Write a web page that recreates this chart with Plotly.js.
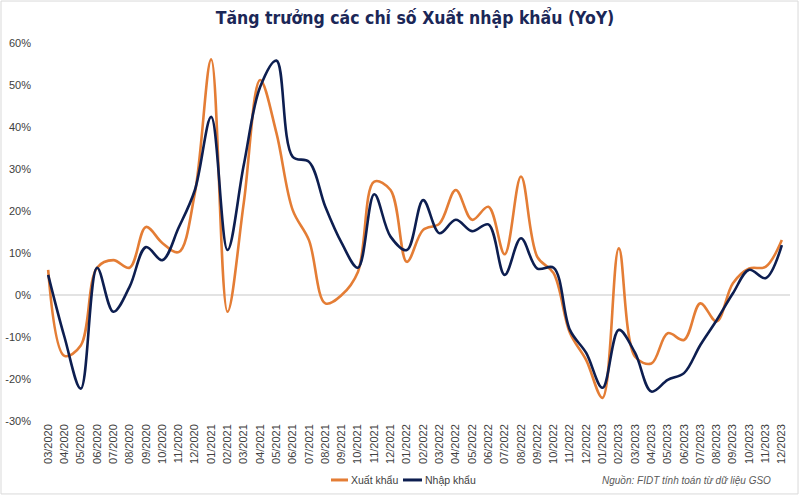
<!DOCTYPE html>
<html>
<head>
<meta charset="utf-8">
<script src="https://cdn.plot.ly/plotly-3.0.1.min.js"></script>
<style>
  html, body { margin: 0; padding: 0; background: #ffffff; }
  #chart { width: 800px; height: 496px; }
</style>
</head>
<body>
<div id="chart"></div>
<script>
const months = ['03/2020','04/2020','05/2020','06/2020','07/2020','08/2020','09/2020','10/2020','11/2020','12/2020',
  '01/2021','02/2021','03/2021','04/2021','05/2021','06/2021','07/2021','08/2021','09/2021','10/2021','11/2021','12/2021',
  '01/2022','02/2022','03/2022','04/2022','05/2022','06/2022','07/2022','08/2022','09/2022','10/2022','11/2022','12/2022',
  '01/2023','02/2023','03/2023','04/2023','05/2023','06/2023','07/2023','08/2023','09/2023','10/2023','11/2023','12/2023'];

const exportYoY = [6, -14.5, -12, 6.5, 8.3, 6.5, 16.2, 12.4, 10.2, 24.3,
  56.1, -4, 22, 51.2, 38.6, 20.2, 13, -2, 0, 5.5, 27, 25,
  7.9, 15.5, 17, 25, 17.9, 21, 9.7, 28.2, 9.1, 5.2, -9, -15.5,
  -24.5, 11.1, -14.7, -16.3, -9.1, -10.7, -2, -6.3, 2.8, 6.3, 6.7, 13.1];

const importYoY = [4.8, -10, -22.3, 6.5, -4, 2, 11.4, 8.3, 16, 25,
  42.4, 10.7, 31, 49.5, 55.8, 32.9, 31.7, 21, 12.4, 6.5, 24, 13.9,
  10.7, 22.6, 14.7, 17.9, 15.2, 16.8, 4.8, 13.5, 6.3, 6.5, -8.3, -13.8,
  -22.1, -8.3, -13.8, -23, -20.2, -18.6, -11.9, -6, 0.4, 6, 4, 11.9];

const seriesNames = ['Xuất khẩu', 'Nhập khẩu'];
const seriesColors = ['#E47D35', '#0D1E50'];
const yTicks = [-30, -20, -10, 0, 10, 20, 30, 40, 50, 60];

const traces = [
  {
    x: months, y: exportYoY, name: seriesNames[0], type: 'scatter', mode: 'lines',
    line: {color: seriesColors[0], width: 2.6, shape: 'spline', smoothing: 1}
  },
  {
    x: months, y: importYoY, name: seriesNames[1], type: 'scatter', mode: 'lines',
    line: {color: seriesColors[1], width: 2.6, shape: 'spline', smoothing: 1}
  }
];

// manual legend (line swatch + label), placed under the axis
const legendY = -0.156;
const legendItems = [
  {x0: 0.388, x1: 0.4107, tx: 0.4125},
  {x0: 0.484, x1: 0.5093, tx: 0.511}
];

const shapes = [
  {
    type: 'rect', xref: 'paper', yref: 'paper',
    x0: -0.052, x1: 1.0107, y0: -0.193, y1: 1.111,
    line: {color: '#D9D9D9', width: 1}, fillcolor: 'rgba(0,0,0,0)', layer: 'below'
  }
];
const annotations = [
  {
    text: '<i>Nguồn: FIDT tính toán từ dữ liệu GSO</i>',
    xref: 'paper', yref: 'paper', x: 0.977, y: -0.1587, xanchor: 'right', yanchor: 'middle',
    showarrow: false, font: {size: 10, color: '#595959'}
  }
];
legendItems.forEach((it, i) => {
  shapes.push({type: 'line', xref: 'paper', yref: 'paper', x0: it.x0, x1: it.x1, y0: legendY, y1: legendY,
    line: {color: seriesColors[i], width: 3}});
  annotations.push({text: seriesNames[i], xref: 'paper', yref: 'paper', x: it.tx, y: legendY,
    xanchor: 'left', yanchor: 'middle', showarrow: false, font: {size: 10.5, color: '#404040'}});
});

const layout = {
  width: 800, height: 496,
  margin: {l: 40, r: 10, t: 43, b: 75},
  paper_bgcolor: '#ffffff', plot_bgcolor: '#ffffff',
  font: {family: 'Liberation Sans, Arial, sans-serif', size: 11, color: '#404040'},
  title: {
    text: '<b>Tăng trưởng các chỉ số Xuất nhập khẩu (YoY)</b>',
    x: 0.5, xref: 'paper', xanchor: 'center', y: 0.963, yanchor: 'middle',
    font: {family: 'DejaVu Sans Condensed, Liberation Sans Narrow, sans-serif', size: 17.5, color: '#1B2757'}
  },
  xaxis: {
    type: 'category', range: [-0.5, 45.5], tickangle: -90,
    showgrid: false, zeroline: false, showline: false, ticks: '',
    tickfont: {size: 11, color: '#404040'}, automargin: false, fixedrange: true
  },
  yaxis: {
    range: [-30, 60], tickvals: yTicks, ticktext: yTicks.map(v => v + '%'),
    showgrid: false, zeroline: true, zerolinecolor: '#E3E3E3', zerolinewidth: 2,
    showline: false, ticks: '', ticklabelstandoff: 8,
    tickfont: {size: 11, color: '#404040'}, automargin: false, fixedrange: true
  },
  showlegend: false,
  annotations: annotations,
  shapes: shapes
};

Plotly.newPlot('chart', traces, layout, {staticPlot: true, displayModeBar: false});
</script>
</body>
</html>
